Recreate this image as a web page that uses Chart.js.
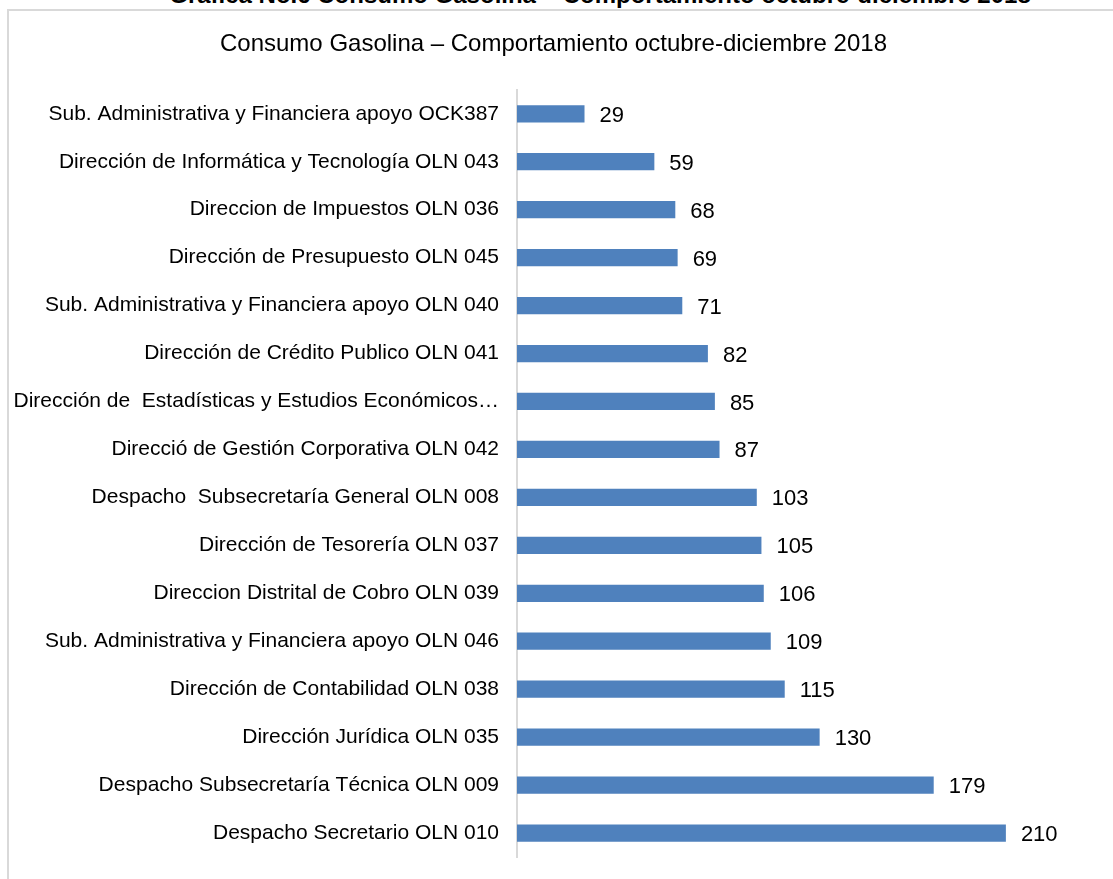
<!DOCTYPE html>
<html>
<head>
<meta charset="utf-8">
<script src="https://cdn.jsdelivr.net/npm/chart.js@4.4.0/dist/chart.umd.min.js"></script>
<style>
  html, body { margin: 0; padding: 0; background: #fff; overflow: hidden; }
  body { width: 1113px; height: 879px; position: relative; font-family: "Liberation Sans", Arial, sans-serif; }
  #topTitle {
    position: absolute; left: 100px; width: 1000px; top: -19px;
    text-align: center; font-weight: bold; font-size: 24px; color: #000; white-space: nowrap;
  }
  #box {
    position: absolute; left: 7px; top: 9px; width: 1120px; height: 900px;
    border: 2px solid #d9d9d9; box-sizing: border-box;
  }
  #wrap { position: absolute; left: 8px; top: 10px; width: 1120px; height: 880px; }
</style>
</head>
<body>
<div id="topTitle">Gráfica No.6 Consumo Gasolina – Comportamiento octubre-diciembre 2018</div>
<div id="box"></div>
<div id="wrap"><canvas id="mainChart"></canvas></div>
<script>
const categories = [
    'Sub. Administrativa y Financiera apoyo OCK387',
    'Dirección de Informática y Tecnología OLN 043',
    'Direccion de Impuestos OLN 036',
    'Dirección de Presupuesto OLN 045',
    'Sub. Administrativa y Financiera apoyo OLN 040',
    'Dirección de Crédito Publico OLN 041',
    'Dirección de  Estadísticas y Estudios Económicos…',
    'Direcció de Gestión Corporativa OLN 042',
    'Despacho  Subsecretaría General OLN 008',
    'Dirección de Tesorería OLN 037',
    'Direccion Distrital de Cobro OLN 039',
    'Sub. Administrativa y Financiera apoyo OLN 046',
    'Dirección de Contabilidad OLN 038',
    'Dirección Jurídica OLN 035',
    'Despacho Subsecretaría Técnica OLN 009',
    'Despacho Secretario OLN 010'
];
const consumo = [29, 59, 68, 69, 71, 82, 85, 87, 103, 105, 106, 109, 115, 130, 179, 210];

// etiquetas de valor al final de cada barra
const valueLabels = {
    id: 'valueLabels',
    afterDatasetsDraw(chart) {
        const c = chart.ctx;
        const meta = chart.getDatasetMeta(0);
        c.save();
        c.font = '22px "Liberation Sans", Arial, sans-serif';
        c.fillStyle = '#000';
        c.textAlign = 'left';
        c.textBaseline = 'middle';
        meta.data.forEach((bar, i) => {
            c.fillText(String(consumo[i]), bar.x + 15, bar.y + 2);
        });
        c.restore();
    }
};

function initChart() {
    const ctx = document.getElementById('mainChart');
    if (!ctx) return;

    new Chart(ctx, {
        type: 'bar',
        data: {
            labels: categories,
            datasets: [{
                label: 'Consumo',
                data: consumo,
                backgroundColor: '#4F81BD',
                borderWidth: 0,
                barPercentage: 0.36,
                categoryPercentage: 1
            }]
        },
        options: {
            indexAxis: 'y',
            responsive: true,
            maintainAspectRatio: false,
            animation: false,
            layout: {
                padding: { left: 0, right: 29, top: 0, bottom: 33 }
            },
            plugins: {
                legend: { display: false },
                tooltip: { enabled: false },
                title: {
                    display: true,
                    text: 'Consumo Gasolina – Comportamiento octubre-diciembre 2018',
                    color: '#000',
                    font: { family: '"Liberation Sans", Arial, sans-serif', size: 24, weight: 'normal', lineHeight: 1.2 },
                    padding: { top: 20, bottom: 31 }
                }
            },
            scales: {
                x: {
                    display: false,
                    min: 0,
                    max: 250
                },
                y: {
                    grid: { display: false, drawTicks: false },
                    border: { display: true, color: '#d9d9d9', width: 2 },
                    ticks: {
                        color: '#000',
                        padding: 18,
                        autoSkip: false,
                        font: { family: '"Liberation Sans", Arial, sans-serif', size: 21 }
                    },
                    afterFit(scale) {
                        scale.width = 509;
                    }
                }
            }
        },
        plugins: [valueLabels]
    });
}

initChart();
</script>
</body>
</html>
